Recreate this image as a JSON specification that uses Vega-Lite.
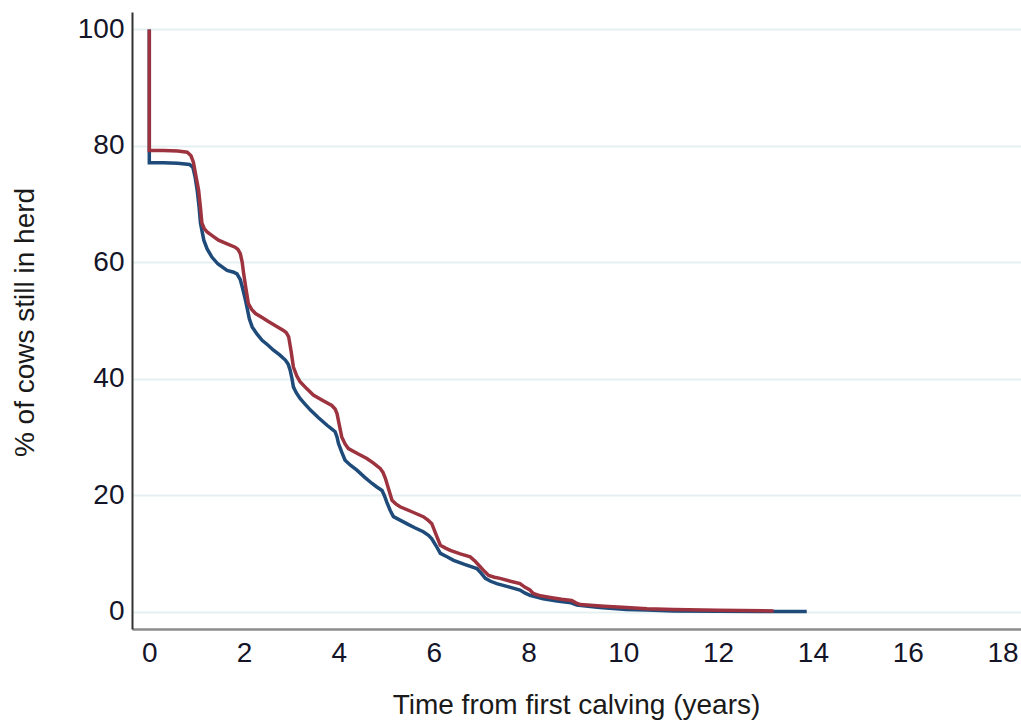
{
  "$schema": "https://vega.github.io/schema/vega-lite/v6.json",
  "width": 889,
  "height": 617,
  "autosize": {"type": "none"},
  "padding": {"left": 132, "top": 12, "right": 0, "bottom": 92},
  "background": "white",
  "config": {
    "view": {"stroke": null},
    "font": "Liberation Sans",
    "axis": {"labelFont": "Liberation Sans", "titleFont": "Liberation Sans", "titleFontWeight": "normal"}
  },
  "datasets": {
    "curves": [
      {"t":0,"v":100,"g":"B"},{"t":0,"v":77.1,"g":"B"},{"t":0.3,"v":77.1,"g":"B"},{"t":0.6,"v":77.0,"g":"B"},{"t":0.85,"v":76.8,"g":"B"},{"t":0.92,"v":76.3,"g":"B"},{"t":0.97,"v":74.5,"g":"B"},{"t":1.01,"v":72.4,"g":"B"},{"t":1.05,"v":69.5,"g":"B"},{"t":1.08,"v":66.7,"g":"B"},{"t":1.15,"v":63.8,"g":"B"},{"t":1.22,"v":62.3,"g":"B"},{"t":1.32,"v":60.9,"g":"B"},{"t":1.45,"v":59.7,"g":"B"},{"t":1.64,"v":58.6,"g":"B"},{"t":1.78,"v":58.3,"g":"B"},{"t":1.85,"v":58.0,"g":"B"},{"t":1.92,"v":57.0,"g":"B"},{"t":1.97,"v":55.5,"g":"B"},{"t":2.02,"v":53.8,"g":"B"},{"t":2.06,"v":52.3,"g":"B"},{"t":2.11,"v":50.3,"g":"B"},{"t":2.17,"v":48.9,"g":"B"},{"t":2.27,"v":47.7,"g":"B"},{"t":2.38,"v":46.6,"g":"B"},{"t":2.5,"v":45.8,"g":"B"},{"t":2.62,"v":44.9,"g":"B"},{"t":2.75,"v":44.1,"g":"B"},{"t":2.87,"v":43.2,"g":"B"},{"t":2.93,"v":42.5,"g":"B"},{"t":2.97,"v":41.5,"g":"B"},{"t":3.01,"v":40.0,"g":"B"},{"t":3.04,"v":38.6,"g":"B"},{"t":3.1,"v":37.6,"g":"B"},{"t":3.18,"v":36.6,"g":"B"},{"t":3.29,"v":35.6,"g":"B"},{"t":3.4,"v":34.6,"g":"B"},{"t":3.57,"v":33.3,"g":"B"},{"t":3.75,"v":32.0,"g":"B"},{"t":3.86,"v":31.3,"g":"B"},{"t":3.92,"v":30.9,"g":"B"},{"t":3.96,"v":30.0,"g":"B"},{"t":3.99,"v":28.9,"g":"B"},{"t":4.06,"v":27.4,"g":"B"},{"t":4.13,"v":26.0,"g":"B"},{"t":4.25,"v":25.1,"g":"B"},{"t":4.38,"v":24.3,"g":"B"},{"t":4.54,"v":23.1,"g":"B"},{"t":4.7,"v":22.0,"g":"B"},{"t":4.8,"v":21.4,"g":"B"},{"t":4.91,"v":20.8,"g":"B"},{"t":4.96,"v":19.9,"g":"B"},{"t":5.01,"v":18.8,"g":"B"},{"t":5.08,"v":17.4,"g":"B"},{"t":5.15,"v":16.3,"g":"B"},{"t":5.29,"v":15.7,"g":"B"},{"t":5.43,"v":15.1,"g":"B"},{"t":5.6,"v":14.4,"g":"B"},{"t":5.78,"v":13.7,"g":"B"},{"t":5.89,"v":13.1,"g":"B"},{"t":5.96,"v":12.5,"g":"B"},{"t":6.05,"v":11.3,"g":"B"},{"t":6.14,"v":10.0,"g":"B"},{"t":6.28,"v":9.4,"g":"B"},{"t":6.42,"v":8.8,"g":"B"},{"t":6.65,"v":8.1,"g":"B"},{"t":6.91,"v":7.4,"g":"B"},{"t":7.0,"v":6.6,"g":"B"},{"t":7.09,"v":5.7,"g":"B"},{"t":7.2,"v":5.2,"g":"B"},{"t":7.33,"v":4.8,"g":"B"},{"t":7.6,"v":4.2,"g":"B"},{"t":7.82,"v":3.7,"g":"B"},{"t":7.92,"v":3.2,"g":"B"},{"t":8.03,"v":2.8,"g":"B"},{"t":8.17,"v":2.5,"g":"B"},{"t":8.31,"v":2.2,"g":"B"},{"t":8.6,"v":1.8,"g":"B"},{"t":8.9,"v":1.5,"g":"B"},{"t":9.02,"v":1.1,"g":"B"},{"t":9.5,"v":0.7,"g":"B"},{"t":10.07,"v":0.35,"g":"B"},{"t":10.5,"v":0.25,"g":"B"},{"t":11.06,"v":0.1,"g":"B"},{"t":12,"v":0.05,"g":"B"},{"t":13,"v":0.02,"g":"B"},{"t":13.87,"v":0,"g":"B"},
      {"t":0,"v":100,"g":"R"},{"t":0,"v":79.2,"g":"R"},{"t":0.3,"v":79.2,"g":"R"},{"t":0.6,"v":79.1,"g":"R"},{"t":0.8,"v":78.9,"g":"R"},{"t":0.88,"v":78.3,"g":"R"},{"t":0.93,"v":77.2,"g":"R"},{"t":0.98,"v":75.0,"g":"R"},{"t":1.04,"v":72.4,"g":"R"},{"t":1.08,"v":69.3,"g":"R"},{"t":1.11,"v":66.7,"g":"R"},{"t":1.16,"v":65.8,"g":"R"},{"t":1.22,"v":65.2,"g":"R"},{"t":1.34,"v":64.5,"g":"R"},{"t":1.46,"v":63.8,"g":"R"},{"t":1.63,"v":63.2,"g":"R"},{"t":1.81,"v":62.6,"g":"R"},{"t":1.87,"v":62.2,"g":"R"},{"t":1.92,"v":61.5,"g":"R"},{"t":1.96,"v":60.0,"g":"R"},{"t":1.99,"v":58.1,"g":"R"},{"t":2.04,"v":55.4,"g":"R"},{"t":2.09,"v":52.9,"g":"R"},{"t":2.16,"v":51.9,"g":"R"},{"t":2.24,"v":51.2,"g":"R"},{"t":2.38,"v":50.5,"g":"R"},{"t":2.52,"v":49.8,"g":"R"},{"t":2.68,"v":49.0,"g":"R"},{"t":2.83,"v":48.3,"g":"R"},{"t":2.89,"v":47.9,"g":"R"},{"t":2.94,"v":47.2,"g":"R"},{"t":2.99,"v":44.8,"g":"R"},{"t":3.04,"v":42.0,"g":"R"},{"t":3.11,"v":40.5,"g":"R"},{"t":3.18,"v":39.5,"g":"R"},{"t":3.32,"v":38.3,"g":"R"},{"t":3.46,"v":37.2,"g":"R"},{"t":3.65,"v":36.3,"g":"R"},{"t":3.85,"v":35.4,"g":"R"},{"t":3.92,"v":34.8,"g":"R"},{"t":3.96,"v":34.0,"g":"R"},{"t":4.01,"v":32.0,"g":"R"},{"t":4.06,"v":30.0,"g":"R"},{"t":4.13,"v":28.8,"g":"R"},{"t":4.2,"v":28.0,"g":"R"},{"t":4.4,"v":27.1,"g":"R"},{"t":4.59,"v":26.3,"g":"R"},{"t":4.73,"v":25.5,"g":"R"},{"t":4.87,"v":24.6,"g":"R"},{"t":4.93,"v":23.9,"g":"R"},{"t":4.98,"v":22.9,"g":"R"},{"t":5.05,"v":21.0,"g":"R"},{"t":5.12,"v":19.1,"g":"R"},{"t":5.2,"v":18.5,"g":"R"},{"t":5.29,"v":18.0,"g":"R"},{"t":5.55,"v":17.1,"g":"R"},{"t":5.78,"v":16.3,"g":"R"},{"t":5.88,"v":15.7,"g":"R"},{"t":5.96,"v":15.1,"g":"R"},{"t":6.05,"v":13.2,"g":"R"},{"t":6.14,"v":11.4,"g":"R"},{"t":6.25,"v":10.9,"g":"R"},{"t":6.35,"v":10.5,"g":"R"},{"t":6.56,"v":9.9,"g":"R"},{"t":6.77,"v":9.4,"g":"R"},{"t":6.88,"v":8.6,"g":"R"},{"t":6.98,"v":7.7,"g":"R"},{"t":7.07,"v":6.9,"g":"R"},{"t":7.16,"v":6.2,"g":"R"},{"t":7.28,"v":5.9,"g":"R"},{"t":7.4,"v":5.7,"g":"R"},{"t":7.62,"v":5.2,"g":"R"},{"t":7.82,"v":4.8,"g":"R"},{"t":7.92,"v":4.2,"g":"R"},{"t":8.03,"v":3.7,"g":"R"},{"t":8.1,"v":3.1,"g":"R"},{"t":8.25,"v":2.7,"g":"R"},{"t":8.46,"v":2.4,"g":"R"},{"t":8.7,"v":2.1,"g":"R"},{"t":8.91,"v":1.9,"g":"R"},{"t":9.0,"v":1.5,"g":"R"},{"t":9.09,"v":1.2,"g":"R"},{"t":9.6,"v":0.9,"g":"R"},{"t":10.07,"v":0.7,"g":"R"},{"t":10.5,"v":0.5,"g":"R"},{"t":11.06,"v":0.35,"g":"R"},{"t":12,"v":0.2,"g":"R"},{"t":13.17,"v":0.1,"g":"R"}
    ]
  },
  "data": {"name": "curves"},
  "mark": {"type": "line", "strokeWidth": 3.5, "interpolate": "linear", "clip": true},
  "encoding": {
    "x": {
      "field": "t", "type": "quantitative",
      "scale": {"domain": [-0.365, 18.39], "nice": false, "zero": false},
      "axis": {
        "title": "Time from first calving (years)",
        "values": [0, 2, 4, 6, 8, 10, 12, 14, 16, 18],
        "grid": false, "ticks": false,
        "domainColor": "#8c8c8c", "domainWidth": 2.5,
        "labelFontSize": 28, "labelColor": "#141428", "labelPadding": 10,
        "titleFontSize": 28, "titleColor": "#1a1a1a",
        "titleBaseline": "alphabetic", "titleY": 84, "titleX": 444
      }
    },
    "y": {
      "field": "v", "type": "quantitative",
      "scale": {"domain": [-3, 103], "nice": false, "zero": false},
      "axis": {
        "title": "% of cows still in herd",
        "values": [0, 20, 40, 60, 80, 100],
        "grid": true, "gridColor": "#e6f0f2", "gridWidth": 2,
        "ticks": false,
        "domainColor": "#333333", "domainWidth": 2,
        "labelFontSize": 28, "labelColor": "#141428", "labelPadding": 8,
        "titleFontSize": 28, "titleColor": "#1a1a1a",
        "titleBaseline": "alphabetic", "titleX": -99, "titleY": 310, "titleAngle": -90
      }
    },
    "color": {
      "field": "g", "type": "nominal", "legend": null,
      "scale": {"domain": ["B", "R"], "range": ["#1e4b7a", "#9e3340"]}
    },
    "order": {"field": "g"}
  }
}
